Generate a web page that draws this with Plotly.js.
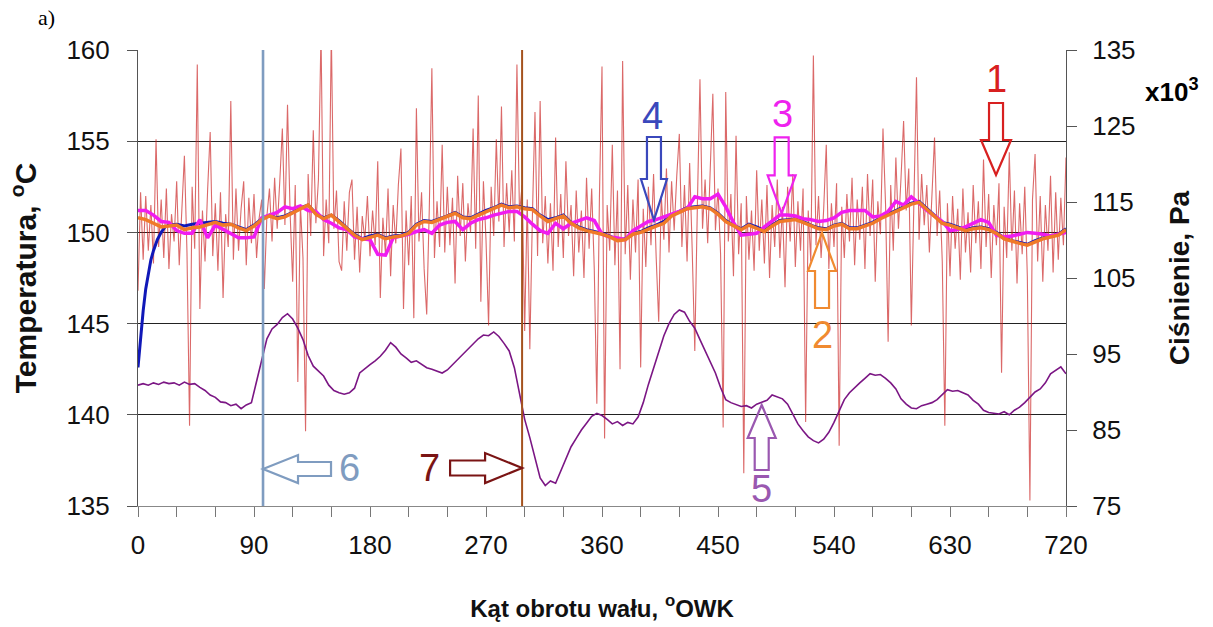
<!DOCTYPE html>
<html>
<head>
<meta charset="utf-8">
<script src="https://cdn.plot.ly/plotly-3.0.1.min.js"></script>
<style>
  html, body { margin: 0; padding: 0; background: #ffffff; }
  #chart { width: 1213px; height: 627px; }
</style>
</head>
<body>
<div id="chart"></div>
<script>
// ---------------- DATA ----------------
// 1: measured temperature (noisy), one value every 2 deg
const rawTempStep = 2;
const rawTemp = [
  146.8, 152.2, 148.5, 152.0, 149.0, 151.5, 148.3, 155.1, 149.2, 151.8,
  148.6, 152.4, 148.0, 151.0, 149.5, 152.8, 148.2, 150.9, 154.2, 148.9,
  139.4, 152.5, 149.1, 159.2, 145.8, 151.2, 148.4, 152.3, 155.5, 148.7,
  151.6, 147.9, 152.2, 146.4, 151.0, 149.2, 157.2, 148.5, 152.4, 149.0,
  151.3, 152.8, 148.2, 151.9, 149.4, 152.1, 148.6, 150.8, 151.8, 146.9,
  150.9, 152.4, 149.5, 153.0, 150.2, 152.8, 155.7, 150.4, 157.0, 151.1,
  147.3, 152.6, 141.8, 151.5, 148.6, 139.1, 153.2, 149.8, 155.6, 150.5,
  152.9, 161.0, 148.7, 151.8, 149.4, 161.0, 150.2, 152.3, 148.4, 147.9,
  151.7, 149.0, 152.2, 152.9, 148.5, 151.4, 147.8, 150.9, 149.6, 152.0,
  148.7, 151.2, 149.3, 153.9, 146.4, 150.8, 148.8, 152.4, 147.6, 151.5,
  149.4, 152.6, 154.6, 145.8, 151.2, 148.2, 152.0, 145.3, 156.8, 149.5,
  152.2, 148.0, 145.5, 151.3, 159.0, 148.6, 151.7, 149.2, 154.8, 148.9,
  152.5, 149.3, 151.9, 147.2, 153.1, 149.8, 152.7, 148.4, 151.6, 150.0,
  155.7, 149.1, 157.5, 146.2, 152.8, 149.6, 144.9, 152.5, 149.8, 155.1,
  150.6, 156.9, 149.2, 152.7, 150.0, 153.4, 149.5, 159.2, 151.0, 152.6,
  144.6, 151.8, 143.6, 150.9, 156.6, 148.7, 157.2, 149.4, 152.0, 148.3,
  151.6, 147.9, 155.2, 149.2, 152.1, 148.6, 153.9, 149.8, 151.5, 147.6,
  152.3, 148.9, 151.2, 147.5, 153.0, 149.1, 152.4, 148.0, 140.6, 151.9,
  159.1, 138.7, 151.5, 149.0, 154.8, 148.2, 152.3, 142.5, 159.4, 148.8,
  152.6, 147.4, 151.8, 148.9, 152.9, 142.6, 151.3, 148.1, 152.5, 149.3,
  153.2, 148.7, 145.1, 152.0, 149.6, 153.5, 148.9, 152.8, 150.1, 153.1,
  155.4, 149.2, 152.6, 148.4, 153.8, 149.0, 143.5, 151.5, 158.4, 150.2,
  152.9, 149.4, 153.6, 157.6, 150.1, 152.4, 148.8, 139.3, 157.7, 149.5,
  152.1, 147.6, 155.3, 148.8, 151.6, 136.8, 152.0, 148.5, 151.2, 147.9,
  153.4, 149.0, 151.8, 148.3, 152.6, 147.5, 151.5, 149.2, 152.9, 148.6,
  151.4, 147.0, 152.5, 149.5, 153.2, 148.1, 151.7, 149.0, 152.4, 139.6,
  151.2, 148.4, 159.7, 149.3, 152.0, 148.6, 151.3, 154.8, 148.0, 151.6,
  149.2, 152.7, 138.3, 151.4, 148.6, 152.1, 149.5, 153.0, 148.2, 151.8,
  149.6, 152.5, 148.0, 153.2, 149.8, 152.9, 147.3, 151.7, 149.9, 155.7,
  151.5, 144.0, 152.6, 149.0, 154.1, 150.2, 153.0, 156.1, 151.2, 153.5,
  144.9, 152.8, 158.5, 149.6, 153.2, 150.4, 152.6, 148.9, 151.8, 155.2,
  149.8, 152.3, 148.4, 139.4, 151.6, 147.6, 152.0, 149.1, 151.3, 147.4,
  152.4, 148.9, 151.1, 147.8, 152.6, 149.4, 151.7, 148.0, 154.0, 149.2,
  152.1, 147.5, 151.5, 149.3, 152.7, 142.3, 151.4, 148.6, 154.4, 149.0,
  152.3, 147.2, 151.6, 148.8, 152.5, 147.6, 135.3, 151.8, 154.3, 148.4,
  152.0, 147.3, 151.5, 149.0, 153.1, 147.8, 152.2, 148.5, 151.9, 149.3,
  154.1
];

// 2: orange temperature, 3: magenta temperature — one value every 6 deg
const smoothStep = 6;
const orangeTemp = [
  150.8, 150.7, 150.5, 150.3, 150.35, 150.4, 150.15, 150.25, 150.3, 150.45,
  150.55, 150.4, 150.45, 150.25, 150.1, 150.35, 150.7, 150.9, 150.75, 150.85,
  151.05, 151.3, 151.5, 151.0, 150.75, 150.95, 150.6, 150.2, 149.85, 149.6,
  149.75, 149.85, 149.65, 149.75, 149.8, 149.95, 150.4, 150.6, 150.55, 150.7,
  150.85, 151.05, 150.8, 150.75, 150.95, 151.15, 151.3, 151.5, 151.35, 151.4,
  151.3, 151.25, 150.9, 150.6, 150.75, 150.9, 150.5, 150.25, 150.1, 150.0,
  149.9, 149.75, 149.55, 149.6, 149.9, 150.0, 150.2, 150.35, 150.5, 150.9,
  151.1, 151.3, 151.35, 151.4, 151.3, 151.0, 150.6, 150.35, 150.15, 150.4,
  150.25, 150.05, 150.35, 150.6, 150.65, 150.7, 150.55, 150.35, 150.2, 150.15,
  150.35, 150.45, 150.2, 150.2, 150.35, 150.5, 150.75, 150.95, 151.15, 151.35,
  151.55, 151.65, 151.25, 150.9, 150.5, 150.4, 150.25, 150.1, 150.2, 150.25,
  150.15, 149.95, 149.65, 149.5, 149.4, 149.3, 149.5, 149.65, 149.75, 149.85,
  150.15
];
const magentaTemp = [
  151.2, 151.2, 150.95, 150.6, 150.55, 150.1, 149.95, 149.95, 150.7, 149.7,
  150.4, 150.15, 149.95, 149.7, 149.7, 149.75, 150.8, 150.95, 151.1, 151.4,
  151.3, 151.45, 151.2, 151.15, 150.7, 150.5, 150.25, 150.15, 149.75, 149.65,
  149.6, 148.8, 148.75, 149.7, 149.8, 149.9, 150.05, 150.15, 149.95, 150.4,
  150.55, 150.6, 150.15, 150.5, 150.7, 150.8, 150.95, 151.05, 151.15, 151.15,
  150.85, 150.45, 150.1, 149.95, 150.5, 150.2, 150.5, 150.65, 150.8, 150.65,
  149.9, 149.75, 149.7, 149.6, 150.1, 150.35, 150.6, 150.7, 150.85, 151.0,
  151.15, 151.3, 151.95, 151.85, 151.85, 152.1, 151.4, 150.55, 149.85, 149.9,
  149.95, 150.3, 150.6, 150.95, 150.95, 150.9, 150.75, 150.7, 150.6, 150.65,
  150.8, 151.1, 151.2, 151.2, 151.2, 150.85, 150.9, 151.15, 151.7, 151.5,
  151.95, 151.6, 151.2, 150.9, 150.6, 150.1, 150.15, 150.3, 150.5, 150.7,
  150.55, 149.85, 149.75, 149.8, 149.9, 150.0, 149.95, 149.9, 149.8, 149.9,
  150.0
];

// 4: blue temperature — warm-up part (explicit angles) then every 6 deg from 24 deg
const blueStartAngles = [0, 1, 2, 3, 4, 6, 8, 10, 12, 15, 18, 21];
const blueStartTemp = [142.6, 143.5, 144.3, 145.0, 145.7, 146.9, 147.8, 148.5, 149.0, 149.6, 150.0, 150.3];
const blueMainStart = 24;
const blueMainTemp = [
  150.4, 150.45, 150.35, 150.45, 150.5, 150.55, 150.6, 150.5, 150.45, 150.3,
  150.15, 150.4, 150.75, 150.95, 150.8, 150.9, 151.1, 151.35, 151.5, 151.05,
  150.8, 150.95, 150.65, 150.25, 149.9, 149.65, 149.8, 149.9, 149.7, 149.8,
  149.85, 150.0, 150.45, 150.65, 150.6, 150.75, 150.9, 151.1, 150.85, 150.8,
  151.0, 151.2, 151.35, 151.55, 151.4, 151.45, 151.35, 151.3, 150.95, 150.7,
  150.8, 150.95, 150.55, 150.3, 150.15, 150.05, 149.95, 149.8, 149.6, 149.65,
  149.95, 150.05, 150.25, 150.4, 150.6, 150.95, 151.15, 151.35, 151.4, 151.45,
  151.35, 151.05, 150.65, 150.4, 150.2, 150.45, 150.3, 150.1, 150.4, 150.65,
  150.7, 150.75, 150.6, 150.4, 150.25, 150.2, 150.4, 150.5, 150.25, 150.25,
  150.4, 150.55, 150.8, 151.0, 151.2, 151.4, 151.6, 151.7, 151.3, 150.95,
  150.55, 150.45, 150.3, 150.15, 150.25, 150.3, 150.2, 150.0, 149.7, 149.55,
  149.45, 149.35, 149.55, 149.7, 149.8, 149.9, 150.2
];

// 5: pressure [x10^3 Pa], one value every 4 deg
const pressureStep = 4;
const pressure = [
  90.9, 91.1, 90.9, 91.2, 91.0, 91.3, 91.1, 91.2, 90.9, 91.3,
  91.0, 91.1, 90.6, 90.2, 89.6, 89.3, 88.7, 88.6, 88.2, 88.4,
  87.8, 88.3, 88.6, 91.4, 94.6, 97.0, 98.3, 98.9, 99.8, 100.3,
  99.6, 98.4, 96.9, 94.8, 93.4, 92.8, 92.1, 90.9, 90.2, 89.9,
  89.7, 89.9, 90.5, 92.5, 93.1, 93.6, 94.1, 94.7, 95.5, 96.5,
  95.9, 95.0, 94.5, 93.9, 94.1, 93.6, 93.2, 93.0, 92.8, 92.5,
  92.9, 93.6, 94.3, 95.0, 95.6, 96.3, 97.0, 97.5, 97.4, 97.9,
  97.3, 96.4, 95.4, 93.2, 90.0, 86.4, 84.0, 81.2, 78.7, 77.7,
  78.3, 78.0, 79.6, 81.3, 82.8, 83.9, 85.0, 85.9, 86.8, 87.2,
  86.9, 86.4, 85.8, 86.1, 85.6, 86.0, 85.8, 86.7, 88.6, 91.0,
  93.2, 95.4, 97.4, 99.0, 100.2, 100.8, 100.5, 99.3, 98.4, 96.9,
  95.4, 93.9, 92.5, 90.6, 89.0, 88.6, 88.3, 88.1, 88.2, 87.9,
  88.4, 88.6, 88.9, 89.6, 89.4, 89.1, 88.4, 87.1, 85.8, 84.9,
  84.1, 83.6, 83.3, 83.8, 84.7, 86.0, 87.6, 89.0, 89.9, 90.6,
  91.2, 91.8, 92.4, 92.2, 92.3, 91.8, 91.2, 90.4, 89.1, 88.4,
  87.9, 87.8, 88.2, 88.4, 88.6, 89.0, 89.6, 90.3, 90.1, 90.2,
  89.9, 89.6, 88.9, 88.4, 87.6, 87.3, 87.2, 87.1, 87.4, 87.0,
  87.6, 88.0, 88.6, 89.3, 90.0, 90.4, 91.2, 92.4, 92.8, 93.3,
  92.4
];

// 6 and 7: vertical marker lines (crank angle, deg)
const marker6Angle = 97;
const marker7Angle = 298;

// axis tick labels
const xTickVals = [0, 90, 180, 270, 360, 450, 540, 630, 720];
const yLeftTicks = [135, 140, 145, 150, 155, 160];
const yRightTicks = [75, 85, 95, 105, 115, 125, 135];

// ---------------- BUILD ----------------
const angles = (arr, step, start) => arr.map((_, i) => (start || 0) + i * step);

const FONT = '"Liberation Sans", Arial, sans-serif';

const traces = [
  {
    x: angles(rawTemp, rawTempStep), y: rawTemp, type: 'scatter', mode: 'lines',
    line: { color: 'rgba(200,28,28,0.66)', width: 1.1 }, name: '1', hoverinfo: 'skip'
  },
  {
    x: blueStartAngles.concat(angles(blueMainTemp, smoothStep, blueMainStart)),
    y: blueStartTemp.concat(blueMainTemp), type: 'scatter', mode: 'lines',
    line: { color: '#1018b8', width: 3 }, name: '4'
  },
  {
    x: angles(magentaTemp, smoothStep), y: magentaTemp, type: 'scatter', mode: 'lines',
    line: { color: '#f01cf0', width: 3.5 }, name: '3'
  },
  {
    x: angles(orangeTemp, smoothStep), y: orangeTemp, type: 'scatter', mode: 'lines',
    line: { color: '#f07a28', width: 3.5 }, name: '2'
  },
  {
    x: angles(pressure, pressureStep), y: pressure, type: 'scatter', mode: 'lines',
    yaxis: 'y2', line: { color: '#7b1684', width: 1.6 }, name: '5'
  }
];

function arrowShape(xref, xa, ya, path, color) {
  return {
    type: 'path', xref: xref, yref: 'paper',
    xsizemode: 'pixel', ysizemode: 'pixel', xanchor: xa, yanchor: ya,
    path: path, line: { color: color, width: 2.2 }, fillcolor: 'rgba(255,255,255,0)', layer: 'above'
  };
}

const shapes = [
  { type: 'line', xref: 'x', yref: 'paper', x0: marker6Angle, x1: marker6Angle, y0: 0, y1: 1,
    line: { color: '#7f9cc0', width: 2.6 } },
  { type: 'line', xref: 'x', yref: 'paper', x0: marker7Angle, x1: marker7Angle, y0: 0, y1: 1,
    line: { color: '#a4521e', width: 2 } },
  arrowShape('paper', 0.9246, 0.7259, 'M0,0 L-15,35 L-7,35 L-7,72 L7,72 L7,35 L15,35 Z', '#d82020'),
  arrowShape('paper', 0.7371, 0.5987, 'M0,0 L-14,-38 L-7,-38 L-7,-75 L7,-75 L7,-38 L14,-38 Z', '#f08a30'),
  arrowShape('paper', 0.6936, 0.6419, 'M0,0 L-14,38 L-7,38 L-7,76 L7,76 L7,38 L14,38 Z', '#ee22ee'),
  arrowShape('paper', 0.5560, 0.6272, 'M0,0 L-13,41 L-7,41 L-7,83 L7,83 L7,41 L13,41 Z', '#3a48bc'),
  arrowShape('paper', 0.6721, 0.2215, 'M0,0 L-14,-33 L-7,-33 L-7,-65 L7,-65 L7,-33 L14,-33 Z', '#9a58b0'),
  arrowShape('x', marker6Angle, 0.0811, 'M0,0 L35,14 L35,7 L68,7 L68,-7 L35,-7 L35,-14 Z', '#7f9cc0'),
  arrowShape('x', marker7Angle, 0.0833, 'M0,0 L-37,15 L-37,7.5 L-72,7.5 L-72,-7.5 L-37,-7.5 L-37,-15 Z', '#7a1414')
];

function numLabel(text, x, y, color) {
  return { text: text, xref: 'paper', yref: 'paper', x: x, y: y, xanchor: 'center', yanchor: 'middle',
    showarrow: false, font: { family: FONT, size: 38, color: color } };
}

const annotations = [
  numLabel('1', 0.9246, 0.9364, '#d82020'),
  numLabel('2', 0.7371, 0.3750, '#f08a30'),
  numLabel('3', 0.6945, 0.8596, '#ee22ee'),
  numLabel('4', 0.5544, 0.8553, '#3a48bc'),
  numLabel('5', 0.6721, 0.0373, '#9a58b0'),
  numLabel('6', 0.2284, 0.0833, '#7f9cc0'),
  numLabel('7', 0.3136, 0.0833, '#7a1414'),
  { text: 'a)', xref: 'paper', yref: 'paper', x: -0.099, y: 1.071, xanchor: 'center', yanchor: 'middle',
    showarrow: false, font: { family: '"Liberation Serif", "Times New Roman", serif', size: 22, color: '#000' } },
  { text: 'x10<sup>3</sup>', xref: 'paper', yref: 'paper', x: 1.114, y: 0.912, xanchor: 'center', yanchor: 'middle',
    showarrow: false, font: { family: FONT, size: 26, color: '#000', weight: 'bold' } }
];

const layout = {
  width: 1213, height: 627,
  margin: { l: 138, r: 147, t: 50, b: 121 },
  paper_bgcolor: '#ffffff', plot_bgcolor: '#ffffff',
  showlegend: false,
  font: { family: FONT, color: '#111' },
  xaxis: {
    range: [0, 720], tickvals: xTickVals, ticks: 'outside', ticklen: 10, tickcolor: '#777', tickwidth: 1,
    minor: { dtick: 30, tick0: 0, ticks: 'outside', ticklen: 10, tickcolor: '#777', showgrid: false },
    showline: true, linecolor: '#888', linewidth: 1, showgrid: false, zeroline: false,
    tickfont: { family: FONT, size: 26, color: '#111' }, ticklabelstandoff: 6,
    title: { text: 'Kąt obrotu wału, <sup>o</sup>OWK', font: { family: FONT, size: 24, color: '#111', weight: 'bold' }, standoff: 40 }
  },
  yaxis: {
    range: [135, 160], tickvals: yLeftTicks, ticks: 'outside', ticklen: 10, tickcolor: '#555',
    showline: true, linecolor: '#555', linewidth: 1, showgrid: true, gridcolor: '#222', gridwidth: 1, zeroline: false,
    tickfont: { family: FONT, size: 26, color: '#111' }, ticklabelstandoff: 12,
    title: { text: 'Temperatura, <sup>o</sup>C', font: { family: FONT, size: 30, color: '#111', weight: 'bold' }, standoff: 20 }
  },
  yaxis2: {
    range: [75, 135], tickvals: yRightTicks, overlaying: 'y', side: 'right',
    ticks: 'outside', ticklen: 10, tickcolor: '#555',
    showline: true, linecolor: '#555', linewidth: 1, showgrid: false, zeroline: false,
    tickfont: { family: FONT, size: 26, color: '#111' }, ticklabelstandoff: 10,
    title: { text: 'Ciśnienie, Pa', font: { family: FONT, size: 28, color: '#111', weight: 'bold' }, standoff: 34 }
  },
  shapes: shapes,
  annotations: annotations
};

Plotly.newPlot('chart', traces, layout, { staticPlot: true, displayModeBar: false });
</script>
</body>
</html>
